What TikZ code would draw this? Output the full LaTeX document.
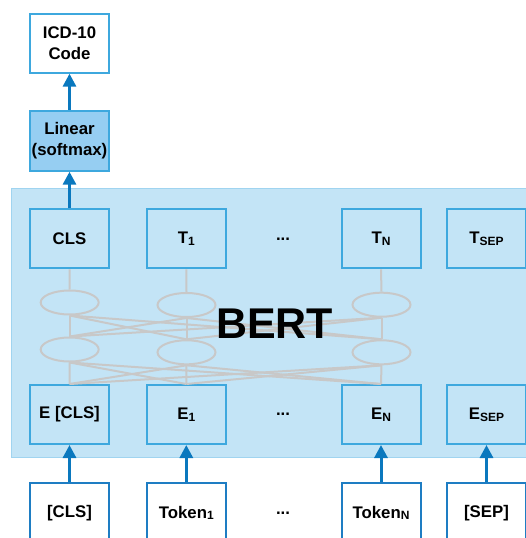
\documentclass[tikz,border=0pt]{standalone}
\usepackage{fontspec}
\setmainfont{Liberation Sans}
\usetikzlibrary{arrows.meta,shapes.geometric}
\definecolor{bertbg}{RGB}{195,228,246}
\definecolor{bertedge}{RGB}{160,212,240}
\definecolor{boxedge}{RGB}{62,168,222}
\definecolor{tokedge}{RGB}{30,125,195}
\definecolor{arrowblue}{RGB}{10,120,190}
\definecolor{linfill}{RGB}{150,206,242}
\definecolor{netgray}{RGB}{200,200,200}
\newcommand{\mysub}[1]{\raisebox{-0.2ex}{\fontsize{12}{12}\selectfont #1}}
\begin{document}
\begin{tikzpicture}[x=1pt,y=-1pt,
  boxstyle/.style={draw=boxedge, line width=2pt, minimum width=79pt, minimum height=59pt,
    inner sep=0pt, align=center, font=\bfseries\fontsize{16.8}{20.5}\selectfont},
  tokbox/.style={boxstyle, draw=tokedge, fill=white},
  plain/.style={inner sep=0pt, font=\bfseries\fontsize{16.8}{20.5}\selectfont},
  ell/.style={draw=netgray, line width=2pt, ellipse, inner sep=0pt, minimum width=58pt, minimum height=24pt},
  net/.style={draw=netgray, line width=2pt},
  arr/.style={draw=arrowblue, line width=3pt, -{Triangle[width=13pt,length=13pt]}}]
\useasboundingbox (0,0) rectangle (525,538);
% BERT background
\path[fill=bertbg, draw=bertedge, line width=1pt] (11.5,188) rectangle (540,457);
% network ellipses
\node[ell] (u1) at (69.7,302.5) {};
\node[ell] (u2) at (186.5,305) {};
\node[ell] (u3) at (381.5,304.7) {};
\node[ell] (l1) at (69.7,349.5) {};
\node[ell] (l2) at (186.5,352.3) {};
\node[ell] (l3) at (381.5,352.3) {};
% rows of boxes
\node[boxstyle] (t1) at (69.5,238.8) {CLS};
\node[boxstyle] (t2) at (186.3,238.8) {T\mysub{1}};
\node[plain] (tdots) at (283,238.8) {...};
\node[boxstyle] (t3) at (381,238.8) {T\mysub{N}};
\node[boxstyle] (t4) at (486.5,238.8) {T\mysub{SEP}};
\node[boxstyle] (e1) at (69.5,414.5) {E [CLS]};
\node[boxstyle] (e2) at (186.3,414.5) {E\mysub{1}};
\node[plain] (edots) at (283,414.5) {...};
\node[boxstyle] (e3) at (381,414.5) {E\mysub{N}};
\node[boxstyle] (e4) at (486.5,414.5) {E\mysub{SEP}};
\node[tokbox] (k1) at (69.5,512.8) {[CLS]};
\node[tokbox] (k2) at (186.3,512.8) {Token\mysub{1}};
\node[plain] (kdots) at (283,512.8) {...};
\node[tokbox] (k3) at (381,512.8) {Token\mysub{N}};
\node[tokbox] (k4) at (486.5,512.8) {[SEP]};
\node[boxstyle, fill=white, minimum height=58.7pt] (icd) at (69.5,43.3) {ICD-10\\Code};
\node[boxstyle, fill=linfill, minimum height=60pt] (lin) at (69.5,140.7) {Linear\\(softmax)};
% network lines
\foreach \i in {1,2,3}{
  \draw[net] (t\i.south) -- (u\i.north);
  \foreach \j in {1,2,3}{
    \draw[net] (u\i.south) -- (l\j.north);
    \draw[net] (l\i.south) -- (e\j.north);
  }
}
\node[font=\bfseries\fontsize{43}{43}\selectfont, inner sep=0pt] (bert) at (274.7,323.5) {BERT};
% arrows
\draw[arr] (lin.north) -- (icd.south);
\draw[arr] (t1.north) -- (lin.south);
\draw[arr] (k1.north) -- (e1.south);
\draw[arr] (k2.north) -- (e2.south);
\draw[arr] (k3.north) -- (e3.south);
\draw[arr] (k4.north) -- (e4.south);
\end{tikzpicture}
\end{document}
